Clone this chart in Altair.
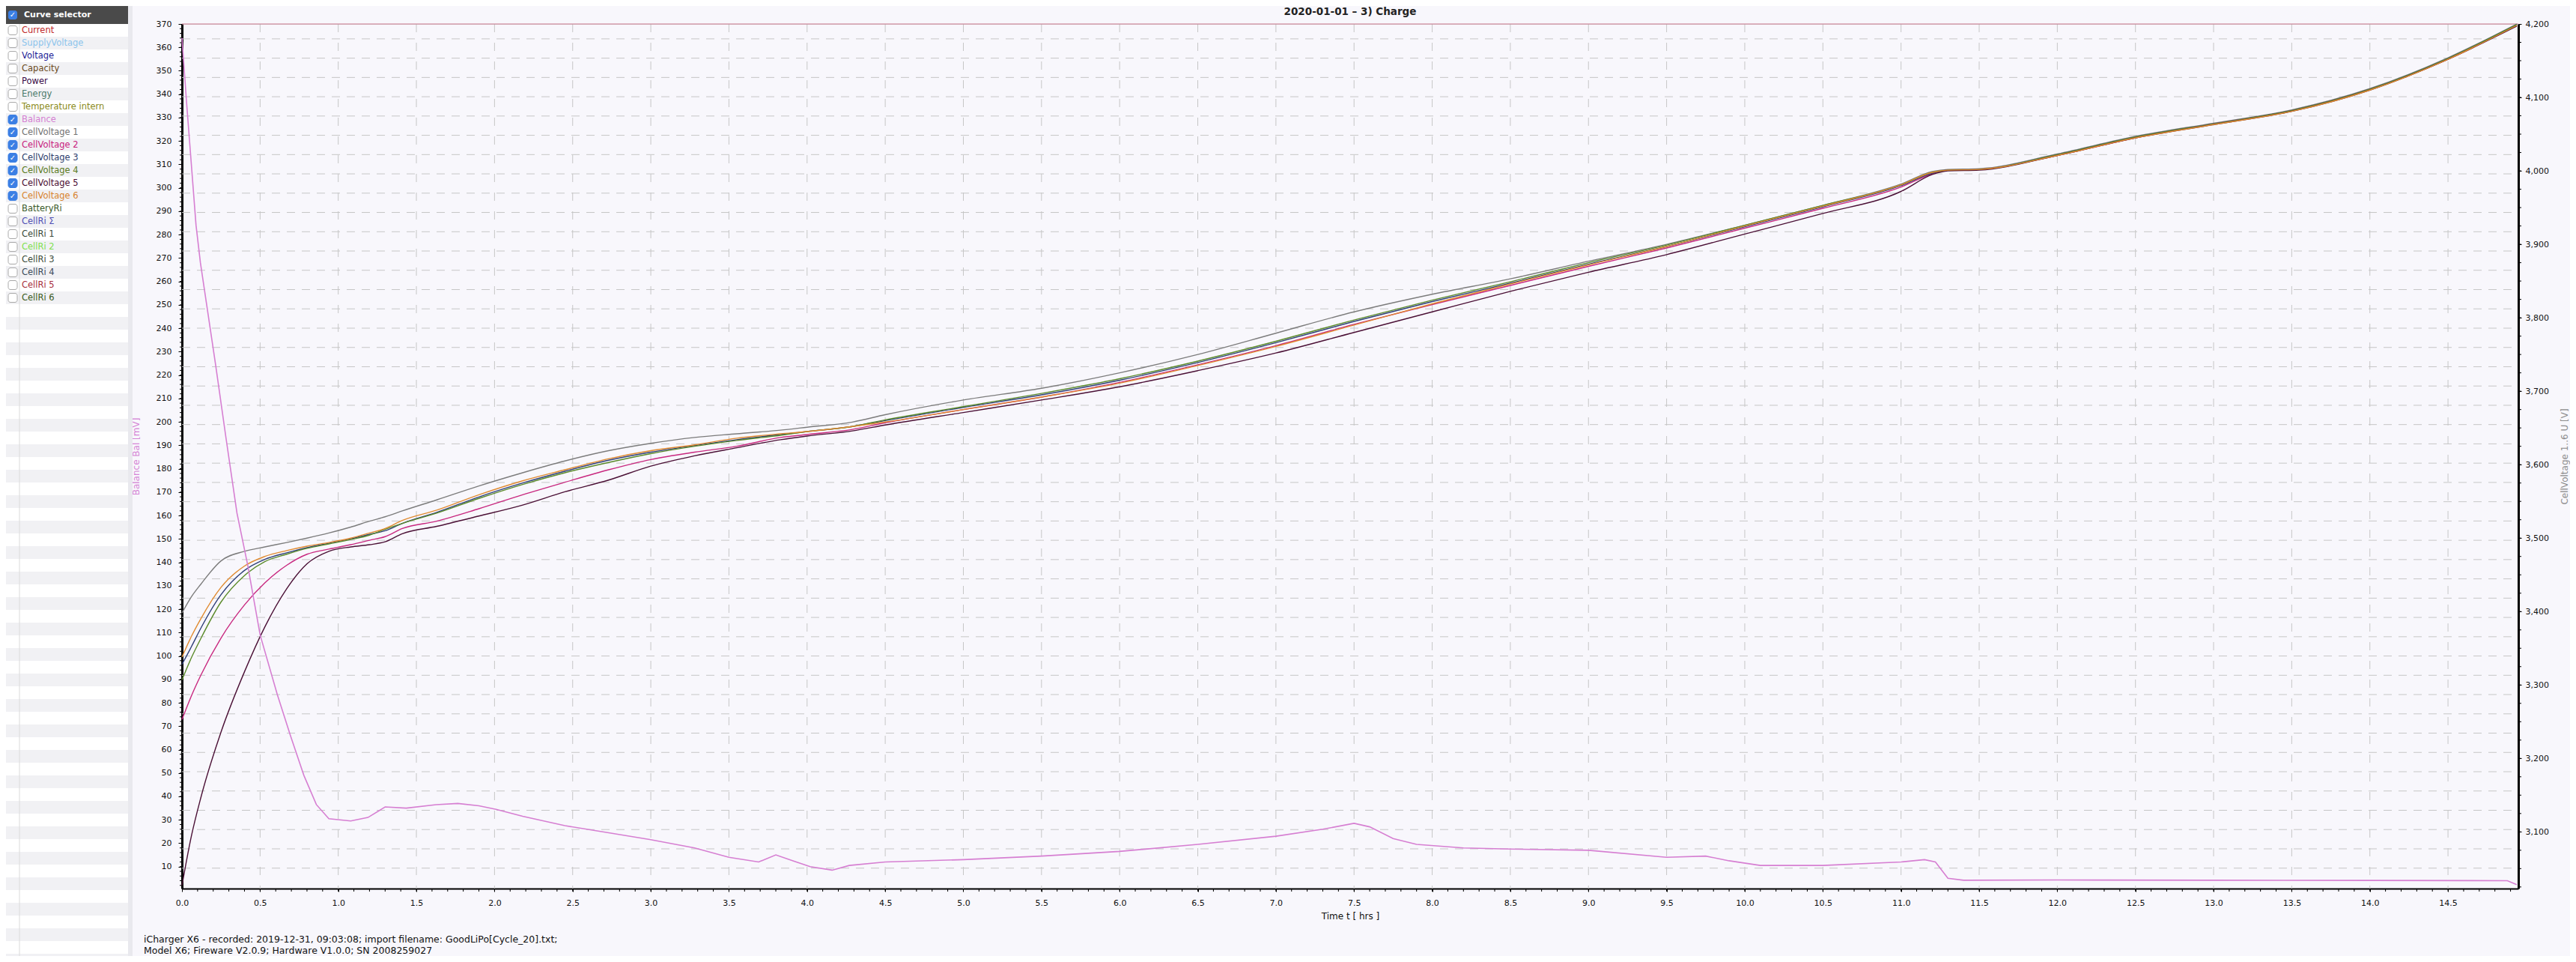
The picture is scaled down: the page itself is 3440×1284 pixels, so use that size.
import altair as alt
import pandas as pd

FONT = "DejaVu Sans"

TITLE = "2020-01-01 – 3) Charge"
X_TITLE = "Time  t  [ hrs ]"
YL_TITLE = "Balance  Bal  [mV]"
YR_TITLE = "CellVoltage 1..6  U  [V]"
FOOTER = [
    "iCharger X6 - recorded: 2019-12-31, 09:03:08; import filename: GoodLiPo[Cycle_20].txt;",
    "Model X6; Fireware V2.0.9; Hardware V1.0.0; SN 2008259027",
]

# ---- curve selector panel ----
CURVES = ["Current", "SupplyVoltage", "Voltage", "Capacity", "Power", "Energy",
          "Temperature intern", "Balance", "CellVoltage 1", "CellVoltage 2",
          "CellVoltage 3", "CellVoltage 4", "CellVoltage 5", "CellVoltage 6",
          "BatteryRi", "CellRi Σ", "CellRi 1", "CellRi 2", "CellRi 3", "CellRi 4",
          "CellRi 5", "CellRi 6"]
CURVE_COLORS = ["#c0282a", "#8cc4ec", "#1c1c96", "#6b4a1c", "#3a0a48", "#4a7a6a",
                "#8a8a20", "#d57fd2", "#727272", "#c8207e", "#2c3c6c", "#5a7a22",
                "#4a0c32", "#d8832e", "#3a5a2a", "#5050b4", "#3a4a3a", "#80e050",
                "#3a4a3a", "#3a4a5a", "#a83040", "#3a5a20"]
CURVE_CHECKED = [False] * 7 + [True] * 7 + [False] * 8

# ---- cell voltages (mV) vs time (hrs) ----
t_cell = [0, 0.06, 0.12, 0.25, 0.4, 0.53, 0.67, 0.8, 0.94, 1.08, 1.2, 1.3, 1.41, 1.63,
          1.9, 2.18, 2.45, 2.73, 3.0, 3.28, 3.55, 3.83, 4.0, 4.29, 4.5, 5.0, 5.5, 6.0,
          6.5, 7.0, 7.5, 8.0, 8.5, 9.0, 9.5, 10.0, 10.5, 11.0, 11.2, 11.3, 11.5, 12.0,
          12.5, 13.0, 13.5, 14.0, 14.5, 14.94]
cv1 = [3398, 3420, 3437, 3469, 3482, 3488, 3494, 3500, 3507, 3515,
       3523, 3529, 3537, 3552, 3571, 3589, 3605, 3619, 3629, 3637,
       3642, 3647, 3651, 3658, 3668, 3688, 3704, 3725, 3750, 3779,
       3808, 3832, 3853, 3877, 3900, 3926, 3953, 3982, 3999, 4002,
       4003, 4023, 4047, 4065, 4083, 4112, 4154, 4200]
cv2 = [3253, 3285, 3313, 3364, 3409, 3439, 3463, 3478, 3485, 3491,
       3497, 3502, 3513, 3523, 3540, 3559, 3576, 3593, 3607, 3617,
       3625, 3637, 3641, 3648, 3657, 3675, 3692, 3712, 3736, 3762,
       3791, 3818, 3844, 3870, 3895, 3922, 3949, 3978, 3996, 4001,
       4002, 4021, 4045, 4064, 4082, 4111, 4152, 4198]
cv3 = [3328, 3352, 3377, 3423, 3456, 3471, 3480, 3487, 3493, 3499,
       3505, 3510, 3520, 3535, 3556, 3575, 3591, 3606, 3617, 3626,
       3634, 3641, 3645, 3652, 3660, 3678, 3695, 3715, 3739, 3766,
       3795, 3822, 3847, 3873, 3897, 3924, 3951, 3980, 3997, 4001,
       4002, 4022, 4046, 4064, 4082, 4111, 4153, 4199]
cv4 = [3307, 3337, 3363, 3413, 3449, 3468, 3478, 3486, 3492, 3498,
       3504, 3512, 3520, 3534, 3554, 3573, 3589, 3603, 3615, 3625,
       3633, 3640, 3645, 3652, 3661, 3679, 3697, 3717, 3741, 3768,
       3797, 3824, 3849, 3875, 3899, 3926, 3953, 3981, 3998, 4001,
       4002, 4022, 4046, 4064, 4082, 4111, 4153, 4199]
cv5 = [3027, 3094, 3146, 3236, 3318, 3379, 3431, 3465, 3482, 3488,
       3491, 3495, 3506, 3516, 3530, 3545, 3563, 3579, 3598, 3612,
       3623, 3634, 3639, 3646, 3654, 3671, 3688, 3706, 3728, 3752,
       3780, 3808, 3836, 3862, 3886, 3914, 3942, 3972, 3995, 4000,
       4001, 4021, 4045, 4063, 4081, 4110, 4152, 4197]
cv6 = [3338, 3366, 3390, 3433, 3462, 3475, 3483, 3489, 3494, 3500,
       3507, 3513, 3524, 3538, 3559, 3578, 3593, 3608, 3619, 3627,
       3636, 3642, 3645, 3652, 3658, 3675, 3692, 3711, 3735, 3761,
       3790, 3819, 3846, 3872, 3897, 3925, 3952, 3981, 3998, 4001,
       4002, 4021, 4045, 4063, 4081, 4110, 4152, 4198]
CELL_NAMES = ["CellVoltage 1", "CellVoltage 2", "CellVoltage 3",
              "CellVoltage 4", "CellVoltage 5", "CellVoltage 6"]
CELL_COLORS = ["#7c7c7c", "#c8287f", "#2f3f78", "#5a8a2a", "#4a1035", "#e08a30"]

# ---- balance (mV) vs time (hrs) ----
bal_t = [0, 0.03, 0.09, 0.118, 0.214, 0.282, 0.352, 0.42, 0.5, 0.61, 0.694, 0.78,
         0.86, 0.94, 1.08, 1.19, 1.3, 1.435, 1.627, 1.765, 1.9, 2.01, 2.18, 2.45,
         2.73, 3.0, 3.28, 3.5, 3.69, 3.8, 3.91, 4.02, 4.16, 4.27, 4.5, 5.0, 5.5,
         6.0, 6.5, 7.0, 7.3, 7.5, 7.6, 7.75, 7.9, 8.2, 8.5, 9.0, 9.5, 9.75, 9.9,
         10.1, 10.5, 11.0, 11.15, 11.22, 11.3, 11.4, 12.0, 13.0, 14.0, 14.88, 14.94]
bal_v = [364, 336, 284, 268, 225, 193, 161, 139, 109, 83.5, 66, 49,
         36.5, 30.5, 29.5, 31, 35.5, 35, 36.5, 37, 36, 34.5, 31.5, 27.5,
         24.5, 21.5, 18, 14, 12, 15, 12.5, 10, 8.5, 10.5, 12, 13, 14.5,
         16.5, 19.5, 23, 26, 28.5, 27, 22, 19.5, 18, 17.5, 17, 14, 14.5, 12.5,
         10.5, 10.5, 12, 13, 12, 5, 4.2, 4.3, 4.2, 4.1, 4.0, 2.3]

x_ticks = [round(0.5 * k, 1) for k in range(0, 30)]
yl_ticks = list(range(10, 371, 10))
yr_ticks = list(range(3100, 4201, 100))

# ---- geometry / scales ----
W, H = 3120, 1154
xs = alt.Scale(domain=[0, 14.95], nice=False, zero=False)
yL = alt.Scale(domain=[0.63, 370], nice=False, zero=False)
yR = alt.Scale(domain=[3022.8, 4200], nice=False, zero=False)

one = pd.DataFrame({"k": [0]})

X_AX = alt.Axis(values=x_ticks, format=".1f", title=X_TITLE, titleFontSize=12,
                titleFont=FONT, titleFontWeight="normal", titleColor="#111",
                titleX=W / 2, titleY=36, titleBaseline="middle", titleAlign="center",
                labelFont=FONT, labelFontSize=11, labelColor="#111", labelPadding=9,
                tickSize=4, tickColor="black", domainColor="black", domainWidth=2,
                grid=False, labelFlush=False)

# ---- panel ----
rows = pd.DataFrame({"name": CURVES, "color": CURVE_COLORS, "checked": CURVE_CHECKED})
rows["i"] = range(len(rows))
rows["cy"] = rows["i"] * 17 + 8.5
rows["b0"] = rows["cy"] - 6
rows["b1"] = rows["cy"] + 6
rows["bfill"] = ["#3b7fe4" if c else "#ffffff" for c in CURVE_CHECKED]
rows["bstroke"] = ["#3b7fe4" if c else "#a8a8a8" for c in CURVE_CHECKED]

stripes = pd.DataFrame({"i": list(range(74))})
stripes["y0"] = stripes["i"] * 17
stripes["y1"] = stripes["i"] * 17 + 17
stripes["fill"] = ["#ffffff" if i % 2 == 0 else "#f1f1f4" for i in stripes["i"]]

stripe_layer = alt.Chart(stripes).mark_rect().encode(
    x=alt.value(-235), x2=alt.value(-72),
    y=alt.Y("y0:Q", scale=None, axis=None), y2="y1:Q",
    fill=alt.Fill("fill:N", scale=None))
strip_right = alt.Chart(one).mark_rect(fill="#e9e9ee").encode(
    x=alt.value(-72), x2=alt.value(-66), y=alt.value(-24), y2=alt.value(H + 90))
col_sep = alt.Chart(one).mark_rule(color="#dadada").encode(
    x=alt.value(-217), y=alt.value(0), y2=alt.value(H + 90))
header = alt.Chart(one).mark_rect(fill="#4a4a4a").encode(
    x=alt.value(-235), x2=alt.value(-72), y=alt.value(-24), y2=alt.value(0))
header_box = alt.Chart(one).mark_rect(fill="#3b7fe4", cornerRadius=3).encode(
    x=alt.value(-232), x2=alt.value(-220), y=alt.value(-18), y2=alt.value(-6))
header_chk = alt.Chart(one).mark_text(text="✓", color="white", fontSize=10,
                                      fontWeight="bold", font=FONT).encode(
    x=alt.value(-226), y=alt.value(-12))
header_txt = alt.Chart(one).mark_text(text="Curve selector", color="white", fontSize=11,
                                      fontWeight="bold", font=FONT, align="left",
                                      baseline="middle").encode(
    x=alt.value(-211), y=alt.value(-12))
row_boxes = alt.Chart(rows).mark_rect(cornerRadius=3, strokeWidth=1).encode(
    x=alt.value(-232), x2=alt.value(-220),
    y=alt.Y("b0:Q", scale=None, axis=None), y2="b1:Q",
    fill=alt.Fill("bfill:N", scale=None), stroke=alt.Stroke("bstroke:N", scale=None))
row_chk = alt.Chart(rows).transform_filter("datum.checked").mark_text(
    text="✓", color="white", fontSize=10, fontWeight="bold", font=FONT).encode(
    x=alt.value(-226), y=alt.Y("cy:Q", scale=None, axis=None))
row_txt = alt.Chart(rows).mark_text(align="left", baseline="middle", fontSize=11.5,
                                    font=FONT).encode(
    x=alt.value(-214), y=alt.Y("cy:Q", scale=None, axis=None), text="name:N",
    color=alt.Color("color:N", scale=None, legend=None))

# ---- chart title (drawn as text so the panel does not push it off the page) ----
title_mark = alt.Chart(pd.DataFrame({"txt": [TITLE]})).mark_text(
    align="center", baseline="middle", fontSize=13.5, fontWeight="bold", font=FONT,
    color="#222").encode(x=alt.value(W / 2), y=alt.value(-16.5), text="txt:N")

# ---- grid & ticks ----
grid_h_vals = [370 - (1159 - 25.74 * k - 32.3) / 3.1242 for k in range(44)]
grid_h = alt.Chart(pd.DataFrame({"g": grid_h_vals})).mark_rule(
    color="#c6c6c6", strokeDash=[11, 9], strokeWidth=1).encode(
    y=alt.Y("g:Q", scale=yL, axis=None), x=alt.value(0), x2=alt.value(W))
grid_v = alt.Chart(pd.DataFrame({"t": x_ticks[1:]})).mark_rule(
    color="#c6c6c6", strokeDash=[11, 14], strokeWidth=1).encode(
    x=alt.X("t:Q", scale=xs, axis=X_AX), y=alt.value(0), y2=alt.value(H))
top_line = alt.Chart(one).mark_rule(color="#c8748a", strokeWidth=1).encode(
    y=alt.value(0), x=alt.value(0), x2=alt.value(W))
minor_x = alt.Chart(pd.DataFrame({"t": [round(0.1 * k, 1) for k in range(1, 150)]})).mark_rule(
    color="black", strokeWidth=1).encode(
    x=alt.X("t:Q", scale=xs, axis=X_AX), y=alt.value(H), y2=alt.value(H + 4))
minor_l = alt.Chart(pd.DataFrame({"m": list(range(2, 370, 2))})).mark_rule(
    color="black", strokeWidth=1).encode(
    y=alt.Y("m:Q", scale=yL, axis=None), x=alt.value(-3), x2=alt.value(0))
minor_r = alt.Chart(pd.DataFrame({"m": list(range(3025, 4200, 25))})).mark_rule(
    color="black", strokeWidth=1).encode(
    y=alt.Y("m:Q", scale=yR, axis=None), x=alt.value(W), x2=alt.value(W + 4))

# ---- data lines ----
cells = pd.concat([
    pd.DataFrame({"t": t_cell, "v": vals, "series": name})
    for name, vals in zip(CELL_NAMES, [cv1, cv2, cv3, cv4, cv5, cv6])
])
cell_lines = alt.Chart(cells).mark_line(strokeWidth=1.4, interpolate="monotone").encode(
    x=alt.X("t:Q", scale=xs, axis=X_AX),
    y=alt.Y("v:Q", scale=yR, axis=alt.Axis(
        orient="right", values=yr_ticks, format=",d", title=YR_TITLE,
        titleFont=FONT, titleFontSize=12, titleFontWeight="normal", titleColor="#8c8c8c",
        titleAngle=270, titleX=61, titleY=H / 2, titleAlign="center",
        titleBaseline="middle", labelFont=FONT, labelFontSize=11, labelColor="#111",
        labelPadding=5, tickSize=4, tickColor="black", domainColor="black",
        domainWidth=3, grid=False)),
    color=alt.Color("series:N", scale=alt.Scale(domain=CELL_NAMES, range=CELL_COLORS),
                    legend=None),
    detail="series:N")

bal_line = alt.Chart(pd.DataFrame({"t": bal_t, "b": bal_v})).mark_line(
    color="#d67fd2", strokeWidth=1.6).encode(
    x=alt.X("t:Q", scale=xs, axis=X_AX),
    y=alt.Y("b:Q", scale=yL, axis=alt.Axis(
        orient="left", values=yl_ticks, format="d", title=YL_TITLE,
        titleFont=FONT, titleFontSize=12, titleFontWeight="normal", titleColor="#d585d5",
        titleAngle=270, titleX=-62, titleY=H / 2, titleAlign="center",
        titleBaseline="middle", labelFont=FONT, labelFontSize=11, labelColor="#111",
        labelPadding=9, tickSize=5, tickColor="black", domainColor="black",
        domainWidth=3, grid=False)))

footer_df = pd.DataFrame({"txt": FOOTER})
footer_df["py"] = [H + 68 + 15 * i for i in range(len(FOOTER))]
footer = alt.Chart(footer_df).mark_text(align="left", baseline="middle", fontSize=12.5,
                                        font=FONT, color="#111").encode(
    x=alt.value(-51), y=alt.Y("py:Q", scale=None, axis=None), text="txt:N")

chart = alt.layer(
    stripe_layer, strip_right, col_sep, header, header_box, header_chk, header_txt,
    row_boxes, row_chk, row_txt,
    grid_h, grid_v, top_line, minor_x, minor_l, minor_r,
    cell_lines, bal_line, footer, title_mark,
).resolve_scale(y="independent", color="independent").properties(
    width=W, height=H,
    padding={"left": 235, "top": 24, "right": 69, "bottom": 90},
    autosize=alt.AutoSizeParams(type="none"),
).configure_view(stroke=None, fill="white").configure(background="#f8f7fc", font=FONT)

chart.save("out.html", embed_options={"renderer": "svg", "actions": False})
